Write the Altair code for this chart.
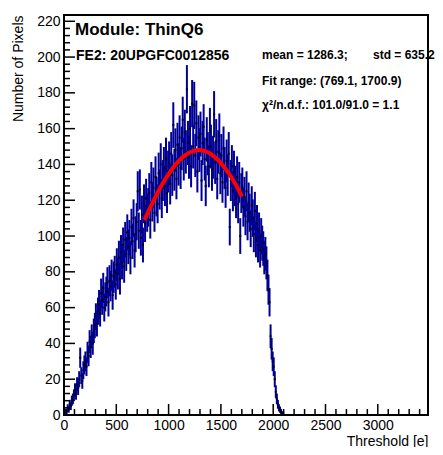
import altair as alt
import pandas as pd
import numpy as np

# ---- data (counts per 10 e bin, starting at 0) ----
bin_width = 10
counts = [
    1, 2, 2, 4, 3, 6, 5, 8, 9, 11,
    14, 12, 17, 15, 20, 32, 22, 19, 25, 28,
    30, 27, 35, 33, 41, 38, 44, 40, 47, 50,
    55, 51, 58, 62, 57, 68, 64, 71, 60, 66,
    69, 74, 63, 75, 72, 78, 67, 77, 80, 73,
    84, 79, 88, 76, 91, 85, 95, 83, 98, 90,
    102, 94, 99, 88, 105, 97, 110, 92, 101, 108,
    125, 103, 126, 99, 112, 95, 118, 107, 121, 113,
    116, 124, 109, 130, 119, 127, 113, 133, 122, 118,
    135, 126, 140, 121, 131, 138, 128, 143, 124, 136,
    141, 129, 146, 134, 162, 137, 148, 132, 151, 140,
    155, 138, 149, 165, 143, 158, 147, 182, 152, 144,
    160, 139, 174, 150, 173, 145, 163, 136, 155, 148,
    157, 131, 152, 161, 143, 128, 154, 146, 139, 159,
    150, 137, 144, 168, 141, 153, 132, 147, 156, 135,
    145, 130, 149, 138, 127, 142, 134, 146, 105, 131,
    139, 125, 136, 128, 121, 133, 118, 130, 100, 124,
    127, 116, 122, 111, 125, 108, 119, 113, 104, 117,
    110, 101, 114, 98, 107, 95, 103, 92, 100, 96,
    93, 88, 90, 85, 78, 70, 63, 44, 37, 30,
    27, 20, 13, 9, 6, 4, 3, 2, 1, 1,
    0,
]

# fit curve points
fit_x = [769.1, 850, 950, 1050, 1150, 1250, 1290, 1350, 1450, 1550, 1650, 1700.9]
fit_y = [109, 119, 130, 138.7, 144.8, 147.7, 148, 147.4, 143.8, 137.1, 127.9, 122]

x_major = [0, 500, 1000, 1500, 2000, 2500, 3000]
x_minor = [v for v in range(0, 3480, 100) if v % 500 != 0]
y_major = list(range(0, 221, 20))
y_minor = [v for v in range(0, 224, 4) if v % 20 != 0]

module_text = "Module: ThinQ6"
fe_text = "FE2: 20UPGFC0012856"
mean_text = "mean = 1286.3;"
std_text = "std = 635.2"
fit_text = "Fit range: (769.1, 1700.9)"
chi_text = "χ²/n.d.f.: 101.0/91.0 = 1.1"

# ---- build tables ----
centers = [bin_width * i + bin_width / 2 for i in range(len(counts))]
hist = pd.DataFrame({"x": centers, "y": counts})
hist = hist[hist["y"] > 0].copy()
hist["lo"] = hist["y"] - np.sqrt(hist["y"])
hist["hi"] = hist["y"] + np.sqrt(hist["y"])

fit_df = pd.DataFrame({"x": fit_x, "y": fit_y})

W, H = 364, 400
FONT = "Liberation Sans"
BLUE = "#000096"

xs = alt.Scale(domain=[0, 3480], nice=False, zero=False)
ys = alt.Scale(domain=[0, 223.5], nice=False, zero=False)

xaxis = alt.Axis(
    values=x_major, format="d", ticks=False, domain=False, grid=False,
    labelFont=FONT, labelFontSize=14, labelColor="black", labelPadding=3,
    labelFlush=False, labelOverlap=False,
    title="Threshold [e]", titleFont=FONT, titleFontSize=14, titleFontWeight="normal",
    titleColor="black", titleAlign="right", titleX=W, titleY=30, titleBaseline="alphabetic",
)
yaxis = alt.Axis(
    values=y_major, format="d", ticks=False, domain=False, grid=False,
    labelFont=FONT, labelFontSize=14, labelColor="black", labelPadding=4,
    labelFlush=False, labelOverlap=False,
    title="Number of Pixels", titleFont=FONT, titleFontSize=14, titleFontWeight="normal",
    titleColor="black", titleAngle=270, titleAlign="right", titleX=-42, titleY=0,
    titleBaseline="alphabetic",
)

X = alt.X("x:Q", scale=xs, axis=xaxis)

errbars = alt.Chart(hist).mark_rule(color=BLUE, strokeWidth=2).encode(
    x=X,
    y=alt.Y("lo:Q", scale=ys, axis=yaxis),
    y2="hi:Q",
)
points = alt.Chart(hist).mark_square(size=4, color="black", opacity=1).encode(
    x=X,
    y=alt.Y("y:Q", scale=ys, axis=yaxis),
)
fit = alt.Chart(fit_df).mark_line(color="#ff0000", strokeWidth=4, interpolate="monotone").encode(
    x=X,
    y=alt.Y("y:Q", scale=ys, axis=yaxis),
)

def xticks(vals, length):
    return alt.Chart(pd.DataFrame({"x": vals})).mark_rule(color="black", strokeWidth=1.5).encode(
        x=X, y=alt.value(H), y2=alt.value(H - length)
    )

def yticks(vals, length):
    return alt.Chart(pd.DataFrame({"y": vals})).mark_rule(color="black", strokeWidth=1.5).encode(
        y=alt.Y("y:Q", scale=ys, axis=yaxis), x=alt.value(0), x2=alt.value(length)
    )

def label(txt, px, py, size, weight="bold"):
    return alt.Chart(pd.DataFrame({"t": [txt]})).mark_text(
        font=FONT, fontSize=size, fontWeight=weight, color="black",
        align="left", baseline="alphabetic",
    ).encode(text="t:N", x=alt.value(px), y=alt.value(py))

chart = alt.layer(
    errbars, points, fit,
    xticks(x_major, 11), xticks(x_minor, 6),
    yticks(y_major, 11), yticks(y_minor, 6),
    label(module_text, 11, 20, 17),
    label(fe_text, 12, 45, 14),
    label(mean_text, 198, 44, 12),
    label(std_text, 309, 44, 12),
    label(fit_text, 198, 70, 12),
    label(chi_text, 198, 94, 12),
).properties(
    width=W, height=H,
    padding={"left": 56, "top": 7, "right": 7, "bottom": 32},
    autosize=alt.AutoSizeParams(type="none"),
    background="white",
).configure_view(stroke="black", strokeWidth=2)

chart.save("out.html", embed_options={"renderer": "svg", "actions": False})
